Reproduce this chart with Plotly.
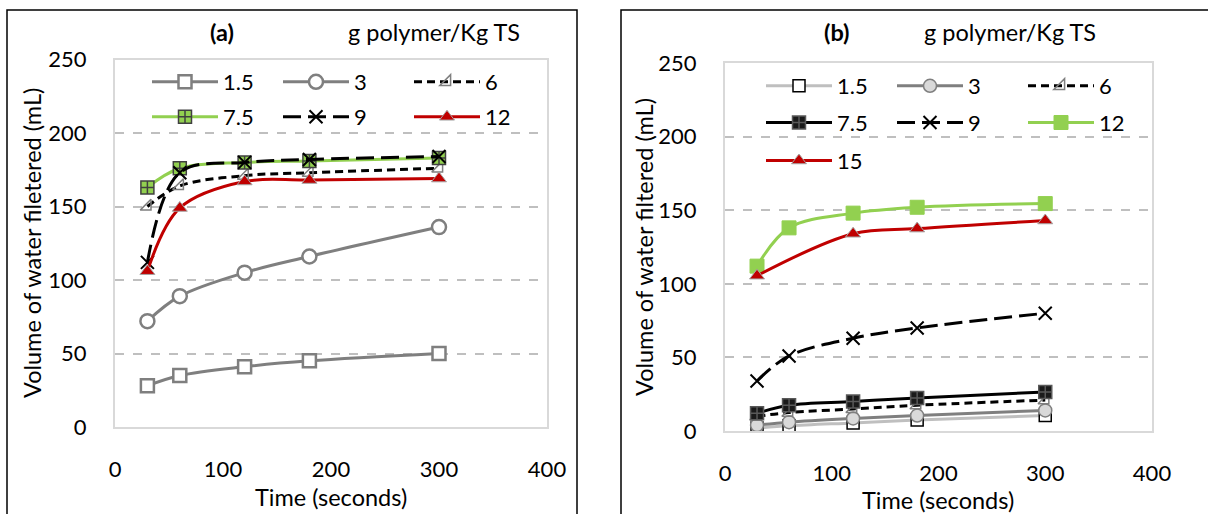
import plotly.graph_objects as go

# ---------------- data ----------------
time_s = [30, 60, 120, 180, 300]

# panel (a)
a_labels = ["1.5", "3", "6", "7.5", "9", "12"]
a_1_5 = [28, 35, 41, 45, 50]
a_3 = [72, 89, 105, 116, 136]
a_6 = [150, 164, 171, 173, 176]
a_7_5 = [163, 176, 180, 181, 183]
a_9 = [112, 173, 180, 182, 184]
a_12 = [106, 149, 167, 168, 169]

# panel (b)
b_labels = ["1.5", "3", "6", "7.5", "9", "12", "15"]
b_1_5 = [2, 3.5, 5.5, 7.5, 10.5]
b_3 = [4, 6, 8.5, 10.5, 14]
b_6 = [10, 12.5, 15, 17.5, 21]
b_7_5 = [12, 17.5, 20, 22.5, 26.5]
b_9 = [34, 51, 63, 70, 80]
b_12 = [112, 138, 148, 152, 154.5]
b_15 = [105.5, None, 134, 137.5, 143]

x_ticks = [0, 100, 200, 300, 400]
y_ticks = [0, 50, 100, 150, 200, 250]

FONT = "Lato"
FS = 22
TS = 23.5
W, H = 1208, 514
GRAY = "#7F7F7F"
LGRAY = "#BFBFBF"
GREEN = "#92D050"
RED = "#C00000"

fig = go.Figure()


def add(y, name, xa, ya, legend, line, marker):
    fig.add_trace(go.Scatter(
        x=time_s, y=y, name=name, xaxis=xa, yaxis=ya, legend=legend,
        mode="lines+markers", connectgaps=True,
        line=dict(shape="spline", smoothing=1.0, **line),
        marker=marker,
    ))


# ---- panel a ----
add(a_1_5, a_labels[0], "x", "y", "legend",
    dict(color=GRAY, width=3),
    dict(symbol="square", size=13, color="white", line=dict(color=GRAY, width=2.5)))
add(a_3, a_labels[1], "x", "y", "legend",
    dict(color=GRAY, width=3),
    dict(symbol="circle", size=14, color="white", line=dict(color=GRAY, width=2.5)))
add(a_6, a_labels[2], "x", "y", "legend",
    dict(color="black", width=3, dash="8px,5px"),
    dict(symbol="triangle-se-open", size=12, color=GRAY, line=dict(color=GRAY, width=1.5)))
add(a_7_5, a_labels[3], "x", "y", "legend2",
    dict(color=GREEN, width=3),
    dict(symbol="square-cross", size=13, color=GREEN, line=dict(color="#404040", width=1.5)))
add(a_9, a_labels[4], "x", "y", "legend2",
    dict(color="black", width=3, dash="18px,7px"),
    dict(symbol="x-thin-open", size=13, color="black", line=dict(color="black", width=2)))
add(a_12, a_labels[5], "x", "y", "legend2",
    dict(color=RED, width=3),
    dict(symbol="triangle-up", size=13, color=RED, line=dict(color="#A6A6A6", width=1)))

# ---- panel b ----
add(b_1_5, b_labels[0], "x2", "y2", "legend3",
    dict(color=LGRAY, width=3),
    dict(symbol="square", size=12, color="white", line=dict(color="black", width=1.5)))
add(b_3, b_labels[1], "x2", "y2", "legend3",
    dict(color=GRAY, width=3),
    dict(symbol="circle", size=13, color="#D9D9D9", line=dict(color=GRAY, width=1.5)))
add(b_6, b_labels[2], "x2", "y2", "legend3",
    dict(color="black", width=3, dash="8px,5px"),
    dict(symbol="triangle-se-open", size=12, color=GRAY, line=dict(color=GRAY, width=1.5)))
add(b_7_5, b_labels[3], "x2", "y2", "legend4",
    dict(color="black", width=3),
    dict(symbol="square-cross", size=13, color="#1A1A1A", line=dict(color="#595959", width=1.5)))
add(b_9, b_labels[4], "x2", "y2", "legend4",
    dict(color="black", width=3, dash="18px,7px"),
    dict(symbol="x-thin-open", size=13, color="black", line=dict(color="black", width=2)))
add(b_12, b_labels[5], "x2", "y2", "legend4",
    dict(color=GREEN, width=3),
    dict(symbol="square", size=14, color=GREEN, line=dict(color=GREEN, width=1)))
add(b_15, b_labels[6], "x2", "y2", "legend5",
    dict(color=RED, width=3),
    dict(symbol="triangle-up", size=13, color=RED, line=dict(color="#A6A6A6", width=1)))


def px_x(p):
    return p / W


def px_y(p):
    return 1 - p / H


axis_font = dict(family=FONT, size=FS, color="black")

xcommon = dict(range=[0, 400], tickvals=x_ticks, showgrid=False, zeroline=False,
               showline=True, linecolor="#D9D9D9", linewidth=2, mirror=True,
               ticks="", tickfont=axis_font, ticklabelstandoff=22, fixedrange=True,
               automargin=False)
ycommon = dict(range=[0, 250], tickvals=y_ticks, showgrid=True, gridcolor=LGRAY,
               griddash="dash", gridwidth=1.5, showline=True, linecolor="#D9D9D9",
               linewidth=2, mirror=True, ticks="", tickfont=axis_font,
               ticklabelstandoff=22, fixedrange=True, automargin=False)

leg_common = dict(orientation="h", font=dict(family=FONT, size=FS, color="black"),
                  bgcolor="rgba(0,0,0,0)", borderwidth=0, itemwidth=66,
                  entrywidth=50, entrywidthmode="pixels", xanchor="left",
                  yanchor="middle", itemclick=False, itemdoubleclick=False)

fig.update_layout(
    width=W, height=H, margin=dict(l=0, r=0, t=0, b=0, autoexpand=False),
    paper_bgcolor="white", plot_bgcolor="white",
    font=dict(family=FONT, size=FS, color="black"),
    xaxis=dict(domain=[px_x(115), px_x(547)], anchor="y", **xcommon),
    yaxis=dict(domain=[px_y(427), px_y(59.5)], anchor="x", zeroline=False, **ycommon),
    xaxis2=dict(domain=[px_x(725), px_x(1152)], anchor="y2", **xcommon),
    yaxis2=dict(domain=[px_y(431), px_y(63)], anchor="x2", zeroline=True,
                zerolinecolor="#A6A6A6", zerolinewidth=2, **ycommon),
    legend=dict(x=px_x(147), y=px_y(82), **leg_common),
    legend2=dict(x=px_x(147), y=px_y(117), **leg_common),
    legend3=dict(x=px_x(761), y=px_y(86), **leg_common),
    legend4=dict(x=px_x(761), y=px_y(122.7), **leg_common),
    legend5=dict(x=px_x(761), y=px_y(160.7), **leg_common),
    showlegend=True,
)

ann_font = dict(family=FONT, size=TS, color="black")
annotations = [
    dict(text="<b>(a)</b>", x=px_x(222), y=px_y(32)),
    dict(text="g polymer/Kg TS", x=px_x(434), y=px_y(32)),
    dict(text="<b>(b)</b>", x=px_x(837), y=px_y(32)),
    dict(text="g polymer/Kg TS", x=px_x(1010), y=px_y(32)),
    dict(text="Time (seconds)", x=px_x(331), y=px_y(497)),
    dict(text="Time (seconds)", x=px_x(938), y=px_y(500)),
    dict(text="Volume of water filetered (mL)", x=px_x(32), y=px_y(243), textangle=-90),
    dict(text="Volume of water filtered (mL)", x=px_x(644), y=px_y(247), textangle=-90),
]
for a in annotations:
    fig.add_annotation(xref="paper", yref="paper", showarrow=False,
                       xanchor="center", yanchor="middle", font=ann_font, **a)

# chart frames
frame = dict(type="rect", xref="paper", yref="paper",
             line=dict(color="black", width=1.5), fillcolor="rgba(0,0,0,0)", layer="above")
fig.add_shape(x0=px_x(7), x1=px_x(577), y0=-0.05, y1=px_y(10), **frame)
fig.add_shape(x0=px_x(621), x1=1.05, y0=-0.05, y1=px_y(10), **frame)

fig.write_html(
    "out.html",
    config={"displayModeBar": False, "staticPlot": False},
    post_script="document.body.style.margin='0';document.body.style.overflow='hidden';",
)
